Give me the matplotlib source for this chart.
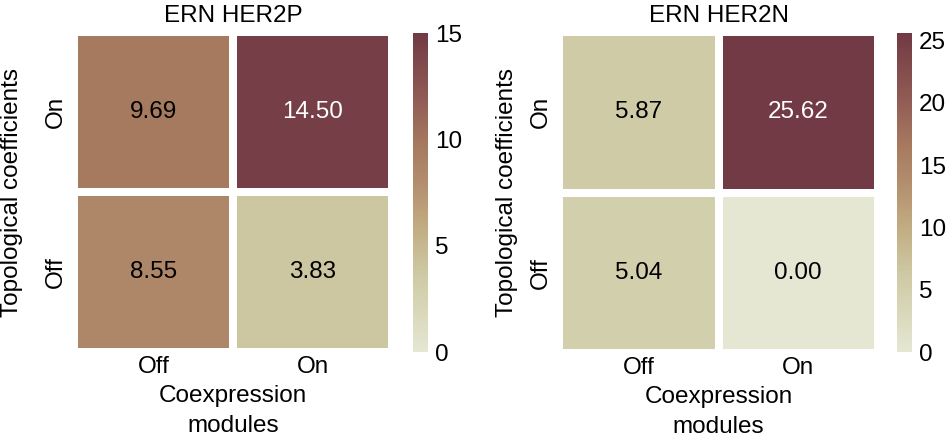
import numpy as np
import matplotlib
matplotlib.use("Agg")
import matplotlib.pyplot as plt
from matplotlib.colors import LinearSegmentedColormap

plt.rcParams['font.family'] = ['Liberation Sans', 'DejaVu Sans']

titles = ["ERN HER2P", "ERN HER2N"]
col_labels = ["Off", "On"]
row_labels = ["On", "Off"]  # top to bottom
her2p = [[9.69, 14.50], [8.55, 3.83]]
her2n = [[5.87, 25.62], [5.04, 0.00]]
vmaxes = [15, 25.62]
cbar_ticks = [[0, 5, 10, 15], [0, 5, 10, 15, 20, 25]]

cmap = LinearSegmentedColormap.from_list(
    "ern", [(0.0, "#e5e7d3"), (0.25, "#cdc8a2"), (0.4, "#c1aa80"),
            (0.55, "#b08a6b"), (0.65, "#a6795f"), (0.8, "#905a54"),
            (1.0, "#713a44")])

FS = 17.5
fig = plt.figure(figsize=(9.46, 4.4), dpi=100)
W, H = 946, 440
axes_px = [(74, 32, 318, 320), (559, 32, 319, 321)]
cbar_px = [(413, 33, 15, 319), (897, 33, 15, 319)]
ylabel_x = [12, 507]

for i, data in enumerate([her2p, her2n]):
    x, y, w, h = axes_px[i]
    ax = fig.add_axes([x / W, 1 - (y + h) / H, w / W, h / H])
    arr = np.array(data)
    m = ax.pcolormesh(np.arange(3), np.arange(3), arr[::-1], cmap=cmap,
                      vmin=0, vmax=vmaxes[i], edgecolor="white", linewidth=5.76)
    ax.set_xlim(0, 2)
    ax.set_ylim(0, 2)
    for r in range(2):
        for c in range(2):
            v = data[r][c]
            col = "white" if v / vmaxes[i] > 0.75 else "black"
            ax.text(c + 0.5, 1.5 - r, f"{v:.2f}", ha="center", va="center",
                    fontsize=FS, color=col)
    ax.set_xticks([0.5, 1.5])
    ax.set_xticklabels(col_labels, fontsize=FS)
    ax.set_yticks([1.5, 0.5])
    ax.set_yticklabels(row_labels, fontsize=FS, rotation=90, va="center")
    ax.tick_params(axis="x", length=0, pad=3)
    ax.tick_params(axis="y", length=0, pad=5)
    for s in ax.spines.values():
        s.set_visible(False)
    ax.set_title(titles[i], fontsize=FS, pad=7)
    ax.set_xlabel("Coexpression\nmodules", fontsize=FS, linespacing=1.45)
    ax.xaxis.set_label_coords(0.5, (352 - 385) / 320)
    ax.set_ylabel("Topological coefficients", fontsize=FS)
    ax.yaxis.set_label_coords((ylabel_x[i] - x) / w, 0.5)
    ax.yaxis.label.set_va("center")

    cx, cy, cw, ch = cbar_px[i]
    cax = fig.add_axes([cx / W, 1 - (cy + ch) / H, cw / W, ch / H])
    cb = fig.colorbar(m, cax=cax, ticks=cbar_ticks[i])
    cb.outline.set_visible(False)
    cax.tick_params(length=0, labelsize=FS, pad=5)

fig.savefig("out.png", dpi=100)
